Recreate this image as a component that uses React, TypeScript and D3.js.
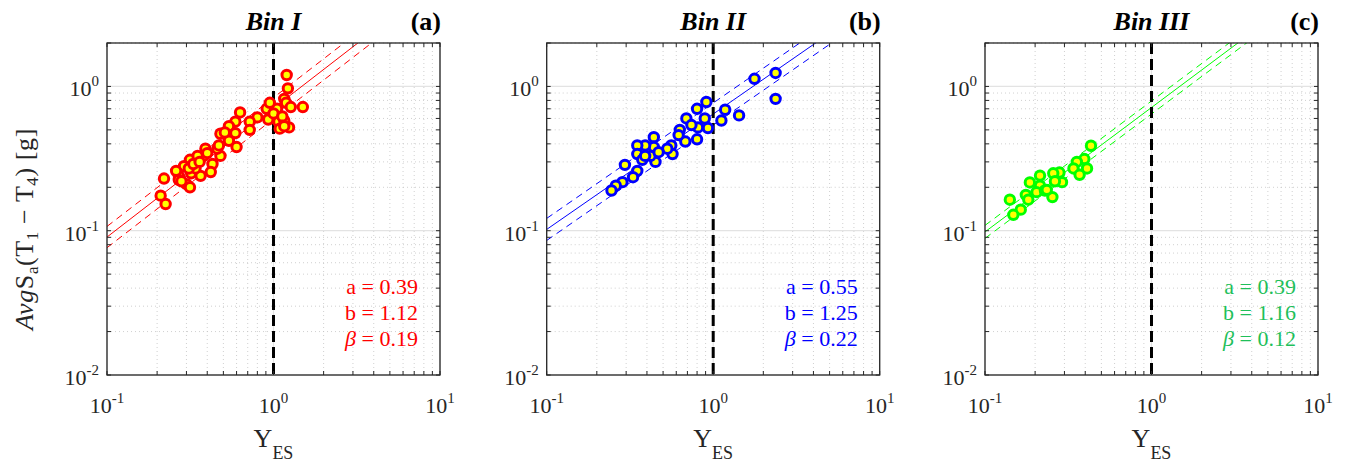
import React, { useEffect } from "react";
import * as d3 from "d3";

// ---------- data ----------
const binTitles = ["Bin I", "Bin II", "Bin III"];
const panelTags = ["(a)", "(b)", "(c)"];
const strokeColors = ["#ff0000", "#0000ff", "#00ff00"];
const textColors = ["#ff0000", "#0000ff", "#1fbf5a"];
const fitA = [0.39, 0.55, 0.39];
const fitB = [1.12, 1.25, 1.16];
const fitBeta = [0.19, 0.22, 0.12];

const binIY = [1.2, 1.22, 1.16, 1.19, 1.27, 1.5, 1.05, 0.91, 0.95, 0.93, 1.07, 1.16, 1.09, 1.24, 1.16, 0.8, 0.72, 0.63, 0.59, 0.54, 0.72, 0.59, 0.48, 0.54, 0.6, 0.48, 0.46, 0.39, 0.43, 0.38, 0.315, 0.29, 0.32, 0.27, 0.365, 0.42, 0.3, 0.22, 0.21, 0.225, 0.27, 0.34, 0.4, 0.51, 0.47, 0.315, 0.26, 0.35, 0.31, 0.33, 0.28, 0.36, 1.0, 1.13];
const binISa = [1.2, 0.97, 0.82, 0.77, 0.72, 0.72, 0.7, 0.7, 0.77, 0.59, 0.57, 0.58, 0.51, 0.52, 0.53, 0.61, 0.57, 0.66, 0.57, 0.53, 0.5, 0.475, 0.47, 0.42, 0.38, 0.33, 0.37, 0.37, 0.29, 0.33, 0.31, 0.28, 0.25, 0.24, 0.24, 0.255, 0.21, 0.23, 0.175, 0.153, 0.225, 0.27, 0.345, 0.48, 0.39, 0.2, 0.26, 0.33, 0.27, 0.29, 0.22, 0.3, 0.65, 0.62];

const binIIY = [2.37, 1.77, 2.37, 1.43, 1.18, 1.12, 0.91, 0.8, 0.89, 0.93, 0.81, 0.69, 0.74, 0.8, 0.68, 0.63, 0.62, 0.56, 0.57, 0.53, 0.44, 0.44, 0.45, 0.39, 0.35, 0.35, 0.375, 0.42, 0.47, 0.295, 0.35, 0.33, 0.285, 0.26, 0.245, 0.39];
const binIISa = [1.24, 1.13, 0.82, 0.63, 0.69, 0.58, 0.78, 0.7, 0.6, 0.515, 0.52, 0.6, 0.54, 0.43, 0.415, 0.5, 0.46, 0.39, 0.34, 0.37, 0.445, 0.38, 0.3, 0.39, 0.39, 0.34, 0.31, 0.33, 0.35, 0.286, 0.26, 0.235, 0.217, 0.205, 0.19, 0.33];

const binIIIY = [0.433, 0.395, 0.356, 0.34, 0.41, 0.37, 0.28, 0.257, 0.29, 0.263, 0.214, 0.186, 0.214, 0.204, 0.229, 0.254, 0.176, 0.182, 0.141, 0.164, 0.148, 0.235];
const binIIISa = [0.388, 0.314, 0.3, 0.27, 0.27, 0.244, 0.253, 0.25, 0.217, 0.22, 0.241, 0.216, 0.205, 0.185, 0.19, 0.171, 0.177, 0.164, 0.164, 0.14, 0.129, 0.192];

const xMajor = [0.1, 1, 10];
const xTickExp = ["-1", "0", "1"];
const yMajor = [0.01, 0.1, 1];
const yTickExp = ["-2", "-1", "0"];

const binXs = [binIY, binIIY, binIIIY];
const binYs = [binISa, binIISa, binIIISa];

// ---------- layout ----------
const W = 1360;
const H = 464;
const panelLefts = [107, 546.7, 985];
const plotW = 333;
const plotTop = 43;
const plotBottom = 375;
const FONT = "'Liberation Serif', 'Times New Roman', serif";

const xMinor: number[] = [];
[0.1, 1].forEach((d) => {
  for (let k = 2; k <= 9; k++) xMinor.push(d * k);
});
const yMinor: number[] = [];
[0.01, 0.1, 1].forEach((d) => {
  for (let k = 2; k <= 9; k++) if (d * k <= 2) yMinor.push(d * k);
});

function Panel({ i }: { i: number }) {
  const left = panelLefts[i];
  const x = d3.scaleLog().domain([0.1, 10]).range([left, left + plotW]);
  const y = d3.scaleLog().domain([0.01, 2]).range([plotBottom, plotTop]);
  const a = fitA[i];
  const b = fitB[i];
  const beta = fitBeta[i];
  const col = strokeColors[i];
  const fitFn = (xv: number, k: number) => Math.exp((Math.log(xv) - a + k * beta) / b);
  const xs = [0.1, 10];
  const pathFor = (k: number) =>
    d3
      .line<number>()
      .x((d) => x(d))
      .y((d) => y(fitFn(d, k)))(xs) || "";
  const clipId = `clip${i}`;
  const pts = binXs[i].map((v, j) => [v, binYs[i][j]]);
  const right = left + plotW;
  const cx = (left + right) / 2;
  return (
    <g>
      <defs>
        <clipPath id={clipId}>
          <rect x={left} y={plotTop} width={plotW} height={plotBottom - plotTop} />
        </clipPath>
      </defs>
      <rect x={left} y={plotTop} width={plotW} height={plotBottom - plotTop} fill="#fff" />
      {/* minor grid */}
      {xMinor.map((v) => (
        <line key={"xm" + v} x1={x(v)} x2={x(v)} y1={plotTop} y2={plotBottom} stroke="#c4c4c4" strokeWidth={0.8} strokeDasharray="1,3" />
      ))}
      {yMinor.map((v) => (
        <line key={"ym" + v} y1={y(v)} y2={y(v)} x1={left} x2={right} stroke="#c4c4c4" strokeWidth={0.8} strokeDasharray="1,3" />
      ))}
      {/* major grid */}
      {xMajor.map((v) => (
        <line key={"xM" + v} x1={x(v)} x2={x(v)} y1={plotTop} y2={plotBottom} stroke="#e3e3e3" strokeWidth={1.2} />
      ))}
      {yMajor.map((v) => (
        <line key={"yM" + v} y1={y(v)} y2={y(v)} x1={left} x2={right} stroke="#e3e3e3" strokeWidth={1.2} />
      ))}
      {/* fit lines */}
      <g clipPath={`url(#${clipId})`}>
        <path d={pathFor(0)} stroke={col} strokeWidth={1} fill="none" />
        <path d={pathFor(1)} stroke={col} strokeWidth={1} fill="none" strokeDasharray="7,5" />
        <path d={pathFor(-1)} stroke={col} strokeWidth={1} fill="none" strokeDasharray="7,5" />
      </g>
      {/* vertical dashed line at Y = 1 */}
      <line x1={x(1)} x2={x(1)} y1={plotTop} y2={plotBottom} stroke="#000" strokeWidth={3} strokeDasharray="11,5" />
      {/* points */}
      {pts.map((p, j) => (
        <circle key={j} cx={x(p[0])} cy={y(p[1])} r={4.7} fill="#ffff00" stroke={col} strokeWidth={3} />
      ))}
      {/* ticks */}
      {xMajor.concat(xMinor).map((v) => (
        <g key={"xt" + v}>
          <line x1={x(v)} x2={x(v)} y1={plotBottom} y2={plotBottom - 4} stroke="#262626" />
          <line x1={x(v)} x2={x(v)} y1={plotTop} y2={plotTop + 4} stroke="#262626" />
        </g>
      ))}
      {yMajor.concat(yMinor).map((v) => (
        <g key={"yt" + v}>
          <line x1={left} x2={left + 4} y1={y(v)} y2={y(v)} stroke="#262626" />
          <line x1={right} x2={right - 4} y1={y(v)} y2={y(v)} stroke="#262626" />
        </g>
      ))}
      <rect x={left} y={plotTop} width={plotW} height={plotBottom - plotTop} fill="none" stroke="#262626" strokeWidth={1.3} />
      {/* tick labels */}
      {xMajor.map((v, j) => (
        <text key={"xl" + v} x={x(v)} y={413} textAnchor="middle" fontFamily={FONT} fontSize={22} fill="#262626">
          10<tspan dy={-10} fontSize={15}>{xTickExp[j]}</tspan>
        </text>
      ))}
      {yMajor.map((v, j) => (
        <text key={"yl" + v} x={left - 8} y={y(v) + 10} textAnchor="end" fontFamily={FONT} fontSize={22} fill="#262626">
          10<tspan dy={-10} fontSize={15}>{yTickExp[j]}</tspan>
        </text>
      ))}
      {/* x label */}
      <text x={cx} y={447} textAnchor="middle" fontFamily={FONT} fontSize={26} fill="#262626">
        Y<tspan dy={12} fontSize={18}>ES</tspan>
      </text>
      {/* titles */}
      <text x={cx} y={30} textAnchor="middle" fontFamily={FONT} fontSize={26} fontWeight="bold" fontStyle="italic" fill="#000">
        {binTitles[i]}
      </text>
      <text x={right + 1} y={30} textAnchor="end" fontFamily={FONT} fontSize={26} fontWeight="bold" fill="#000">
        {panelTags[i]}
      </text>
      {/* annotations */}
      <text x={right - 22} y={294} textAnchor="end" fontFamily={FONT} fontSize={22} fill={textColors[i]}>
        a = {a.toFixed(2)}
      </text>
      <text x={right - 22} y={320} textAnchor="end" fontFamily={FONT} fontSize={22} fill={textColors[i]}>
        b = {b.toFixed(2)}
      </text>
      <text x={right - 22} y={346} textAnchor="end" fontFamily={FONT} fontSize={22} fill={textColors[i]}>
        <tspan fontStyle="italic">β</tspan> = {beta.toFixed(2)}
      </text>
    </g>
  );
}

export default function App() {
  useEffect(() => {
    document.body.style.margin = "0";
  }, []);
  return (
    <svg width={W} height={H} style={{ display: "block", position: "absolute", left: 0, top: 0, background: "#fff" }}>
      <rect x={0} y={0} width={W} height={H} fill="#fff" />
      {[0, 1, 2].map((i) => (
        <Panel key={i} i={i} />
      ))}
      <text transform="translate(33,229) rotate(-90)" textAnchor="middle" fontFamily={FONT} fontSize={26} letterSpacing={0.6} fill="#262626">
        <tspan fontStyle="italic">Avg</tspan>S<tspan dy={5} fontSize={17}>a</tspan>
        <tspan dy={-5}>(T</tspan>
        <tspan dy={5} fontSize={17}>1</tspan>
        <tspan dy={-5}> − T</tspan>
        <tspan dy={5} fontSize={17}>4</tspan>
        <tspan dy={-5}>) [g]</tspan>
      </text>
    </svg>
  );
}
